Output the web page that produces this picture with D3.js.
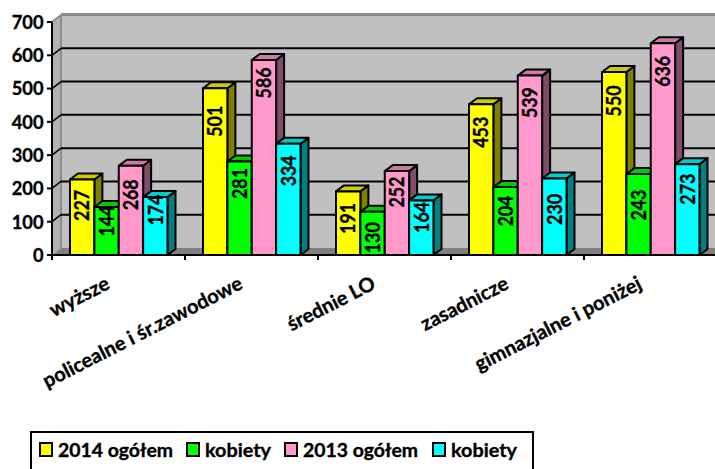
<!DOCTYPE html>
<html><head><meta charset="utf-8">
<script src="https://cdn.jsdelivr.net/npm/d3@7/dist/d3.min.js"></script>
<style>html,body{margin:0;padding:0;background:#fff}svg{display:block}text{font-family:Lato,"Open Sans",sans-serif;font-weight:700;fill:#000;stroke:#000;stroke-width:.35px}</style>
</head><body><svg id="c" width="715" height="469"></svg>
<script>
const categories=["wyższe","policealne i śr.zawodowe","średnie LO","zasadnicze","gimnazjalne i poniżej"];
const seriesNames=["2014 ogółem","kobiety","2013 ogółem","kobiety"];
const s2014=[227,501,191,453,550];
const k2014=[144,281,130,204,243];
const s2013=[268,586,252,539,636];
const k2013=[174,334,164,230,273];
const seriesValues=[s2014,k2014,s2013,k2013];
const yTicks=[0,100,200,300,400,500,600,700];
// how far each value label sits below the top of its bar, per series
const labelDrop=[[26,33,27,28,29],[14,22,26,24,31],[29,23,21,27,28],[13,27,17,31,25]];
const fronts=["#ffff00","#00ff00","#ff99cc","#00ffff"];
const tops=["#cccc00","#00cc00","#cc7aa3","#00cccc"];
const sides=["#808000","#008000","#804d66","#008080"];

const svg=d3.select("#c");
const y=d3.scaleLinear().domain([0,700]).range([255,22]);
const x=d3.scaleBand().domain(d3.range(5)).range([52,717]);
const inner=d3.scaleBand().domain(d3.range(4)).range([18,115.5]);
const dx=9,dy=7,bdx=8,bdy=6,L=52,R=715;
const poly=(g,pts,f,st,sw)=>g.append("polygon").attr("points",pts.map(p=>p.join(",")).join(" ")).attr("fill",f).attr("stroke",st||"none").attr("stroke-width",sw||0).attr("stroke-linejoin","round");

// walls
const bg=svg.append("g");
poly(bg,[[L+dx,y(700)-dy],[R,y(700)-dy],[R,y(0)-dy],[L+dx,y(0)-dy]],"#c0c0c0");
poly(bg,[[L,y(700)],[L+dx,y(700)-dy],[L+dx,y(0)-dy],[L,y(0)]],"#b2b2b2");
poly(bg,[[L,y(0)],[L+dx,y(0)-dy],[R,y(0)-dy],[R,y(0)]],"#808080");
bg.append("line").attr("x1",L+dx).attr("x2",R).attr("y1",y(700)-dy-.5).attr("y2",y(700)-dy-.5).attr("stroke","#8c8c8c").attr("stroke-width",3);
bg.append("line").attr("x1",L+dx).attr("x2",L+dx).attr("y1",y(700)-dy).attr("y2",y(0)-dy).attr("stroke","#8c8c8c").attr("stroke-width",2);
bg.append("line").attr("x1",L).attr("x2",L+dx).attr("y1",y(700)).attr("y2",y(700)-dy).attr("stroke","#8c8c8c").attr("stroke-width",2);
// gridlines
yTicks.slice(1,7).forEach(t=>{
  bg.append("line").attr("x1",L+dx).attr("x2",R).attr("y1",y(t)-dy).attr("y2",y(t)-dy).attr("stroke","#000").attr("stroke-width",2);
  bg.append("line").attr("x1",L).attr("x2",L+dx).attr("y1",y(t)).attr("y2",y(t)-dy).attr("stroke","#000").attr("stroke-width",1.5);
});

// bars
const bars=svg.append("g");
categories.forEach((c,i)=>{
  seriesValues.forEach((vals,j)=>{
    const v=vals[i],x0=x(i)+inner(j),w=inner.bandwidth(),top=y(v),b=y(0);
    const g=bars.append("g");
    poly(g,[[x0+w,top],[x0+w+bdx,top-bdy],[x0+w+bdx,b-bdy],[x0+w,b]],sides[j],"#000",2);
    poly(g,[[x0,top],[x0+bdx,top-bdy],[x0+w+bdx,top-bdy],[x0+w,top]],tops[j],"#000",2);
    poly(g,[[x0,top],[x0+w,top],[x0+w,b],[x0,b]],fronts[j],"#000",2);
  });
});
// labels after the bars
categories.forEach((c,i)=>{
  seriesValues.forEach((vals,j)=>{
    const v=vals[i],cx=x(i)+inner(j)+inner.bandwidth()/2,cy=y(v)+labelDrop[j][i];
    svg.append("text").attr("transform",`translate(${cx},${cy}) rotate(-90)`)
      .attr("text-anchor","middle").attr("dy","0.36em").attr("font-size",20)
      .attr("textLength",31).attr("lengthAdjust","spacingAndGlyphs").text(v);
  });
});

// axes
const ax=svg.append("g");
ax.append("line").attr("x1",L).attr("x2",L).attr("y1",y(700)).attr("y2",y(0)+5).attr("stroke","#000").attr("stroke-width",2);
ax.append("line").attr("x1",L).attr("x2",R).attr("y1",y(0)).attr("y2",y(0)).attr("stroke","#000").attr("stroke-width",2);
yTicks.forEach(t=>{
  ax.append("line").attr("x1",L-5).attr("x2",L).attr("y1",y(t)).attr("y2",y(t)).attr("stroke","#000").attr("stroke-width",2);
  ax.append("text").attr("x",43.5).attr("y",y(t)).attr("dy","0.36em").attr("text-anchor","end").attr("font-size",19)
    .attr("textLength",String(t).length*10.6).attr("lengthAdjust","spacingAndGlyphs").text(t);
});
d3.range(6).forEach(i=>{
  const px=52+133*i;
  ax.append("line").attr("x1",px).attr("x2",px).attr("y1",y(0)).attr("y2",y(0)+5).attr("stroke","#000").attr("stroke-width",2);
});
categories.forEach((c,i)=>{
  const ax0=x(i)+x.bandwidth()/2-7.5;
  ax.append("text").attr("transform",`translate(${ax0},288) rotate(-27)`).attr("text-anchor","end").attr("font-size",20).text(c);
});

// legend
const lg=svg.append("g");
lg.append("rect").attr("x",31).attr("y",432).attr("width",502).attr("height",38).attr("fill","#fff").attr("stroke","#000").attr("stroke-width",2);
const lx=[39,186,284,432],lw=[115,66,115,66];
seriesNames.forEach((n,j)=>{
  lg.append("rect").attr("x",lx[j]+1).attr("y",443).attr("width",12).attr("height",13).attr("fill",fronts[j]).attr("stroke","#000").attr("stroke-width",2);
  lg.append("text").attr("x",lx[j]+19).attr("y",457).attr("font-size",19)
    .attr("textLength",lw[j]).attr("lengthAdjust","spacingAndGlyphs").text(n);
});
</script></body></html>
